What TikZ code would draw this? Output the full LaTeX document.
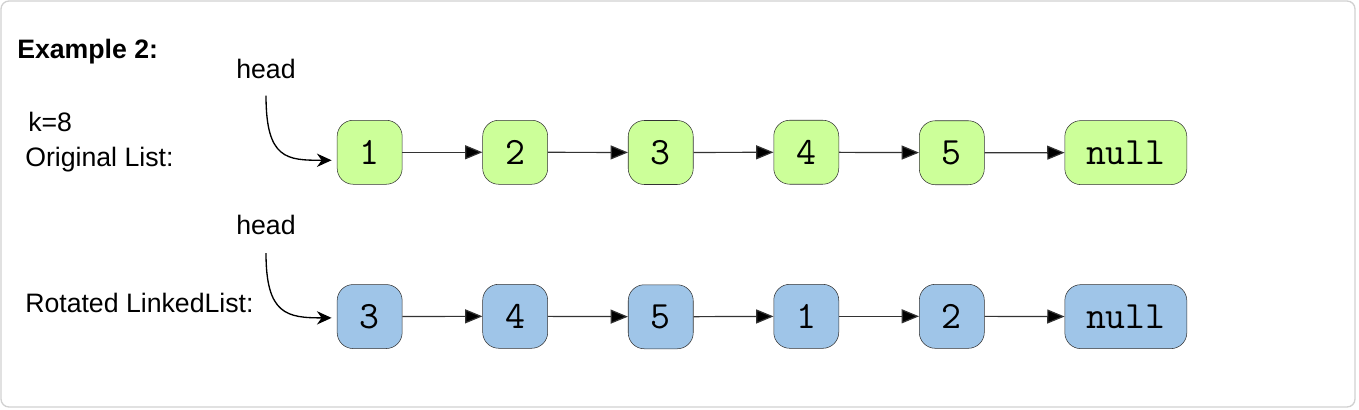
\documentclass[tikz,border=0pt]{standalone}
\usepackage{fontspec}
\setmainfont{Liberation Sans}
\usetikzlibrary{matrix,positioning,arrows.meta,calc}
\definecolor{listgreen}{HTML}{CCFF99}
\definecolor{listblue}{HTML}{9FC5E8}
\definecolor{linkgray}{HTML}{333333}
\tikzset{
  listnode/.style={draw=linkgray, rounded corners=12pt, minimum width=48.75pt,
    minimum height=48pt, inner sep=0pt, font=\ttfamily\fontsize{29}{32}\selectfont},
  link/.style={draw=linkgray, line width=0.9pt, -{Triangle[length=13pt,width=10.5pt]}},
  pointer/.style={draw=black, line width=1pt, -{Stealth[length=11pt,width=10pt]}, shorten >=4pt},
  label/.style={inner sep=0pt, anchor=base west, font=\fontsize{20}{24}\selectfont}
}

\begin{document}
\begin{tikzpicture}[x=0.75pt, y=-0.75pt]
\useasboundingbox (0,0) rectangle (1359,410);
\draw[rounded corners=6pt, draw=black!18, line width=1pt] (1,1) rectangle (1355,407);

\node[label, font=\bfseries\fontsize{20}{24}\selectfont] (title) at (17,59) {Example 2:};
\node[label] (k) at (28,131) {k=8};
\node[label] (orig) at (25,166) {Original List:};
\node[label] (rot) at (25,312) {Rotated LinkedList:};

\matrix (m) [matrix of nodes, row sep=74.25pt, column sep=60pt, nodes={listnode},
  row 1/.style={nodes={fill=listgreen}}, row 2/.style={nodes={fill=listblue}},
  column 6/.style={nodes={minimum width=91.5pt}}] at (762,234.5)
{ 1 & 2 & 3 & 4 & 5 & null \\
  3 & 4 & 5 & 1 & 2 & null \\ };

\path[link]
(m-1-1) edge (m-1-2)
(m-1-2) edge (m-1-3)
(m-1-3) edge (m-1-4)
(m-1-4) edge (m-1-5)
(m-1-5) edge (m-1-6);
\path[link]
(m-2-1) edge (m-2-2)
(m-2-2) edge (m-2-3)
(m-2-3) edge (m-2-4)
(m-2-4) edge (m-2-5)
(m-2-5) edge (m-2-6);

\node[label, anchor=base] (head1) at (266,79) {head};
\node[label, anchor=base] (head2) at (266,234) {head};
\draw[pointer, shorten <=12pt] (head1.south) .. controls +(0,80) and +(-50,0) .. ([yshift=-6pt]m-1-1.west);
\draw[pointer, shorten <=14pt] (head2.south) .. controls +(0,80) and +(-50,0) .. ([yshift=-1pt]m-2-1.west);
\end{tikzpicture}
\end{document}
